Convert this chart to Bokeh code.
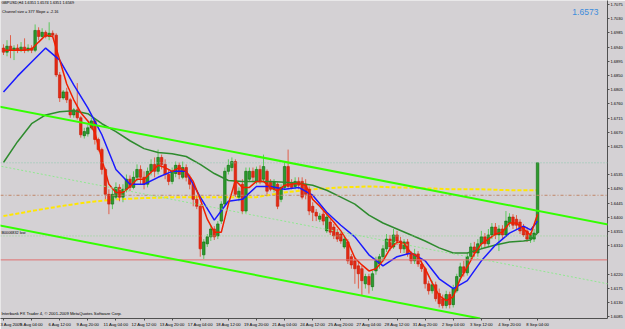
from bokeh.plotting import figure
from bokeh.models import ColumnDataSource, FixedTicker, Slope, Span, Label, PrintfTickFormatter, Range1d
from bokeh.embed import file_html
from bokeh.resources import INLINE

# ---------------- data (GBPUSD H4) ----------------
opens = [
    1.6937, 1.6924, 1.6943, 1.6930, 1.6937, 1.6930, 1.6940, 1.6930, 1.6937, 1.6930,
    1.6993, 1.6974, 1.6987, 1.6974, 1.6984, 1.6978, 1.6852, 1.6779, 1.6798, 1.6773,
    1.6725, 1.6741, 1.6716, 1.6659, 1.6665, 1.6684, 1.6706, 1.6647, 1.6615, 1.6552,
    1.6473, 1.6442, 1.6464, 1.6495, 1.6464, 1.6489, 1.6521, 1.6495, 1.6527, 1.6552,
    1.6527, 1.6505, 1.6546, 1.6568, 1.6546, 1.6590, 1.6568, 1.6536, 1.6514, 1.6539,
    1.6565, 1.6527, 1.6558, 1.6527, 1.6505, 1.6457, 1.6435, 1.6281, 1.6316, 1.6338,
    1.6363, 1.6341, 1.6388, 1.6442, 1.6546, 1.6558, 1.6577, 1.6464, 1.6505, 1.6420,
    1.6521, 1.6546, 1.6514, 1.6552, 1.6521, 1.6546, 1.6511, 1.6489, 1.6505, 1.6457,
    1.6495, 1.6561, 1.6511, 1.6498, 1.6514, 1.6514, 1.6505, 1.6489, 1.6435, 1.6416,
    1.6394, 1.6410, 1.6357, 1.6385, 1.6369, 1.6353, 1.6347, 1.6306, 1.6322, 1.6275,
    1.6262, 1.6246, 1.6237, 1.6189, 1.6212, 1.6180, 1.6230, 1.6252, 1.6275, 1.6300,
    1.6331, 1.6306, 1.6344, 1.6325, 1.6300, 1.6322, 1.6284, 1.6262, 1.6284, 1.6252,
    1.6237, 1.6189, 1.6167, 1.6186, 1.6158, 1.6142, 1.6120, 1.6155, 1.6123, 1.6167,
    1.6212, 1.6243, 1.6224, 1.6275, 1.6306, 1.6287, 1.6316, 1.6338, 1.6316, 1.6344,
    1.6369, 1.6344, 1.6363, 1.6344, 1.6382, 1.6401, 1.6394, 1.6385, 1.6369, 1.6357,
    1.6331, 1.6331, 1.6351,
]
highs = [
    1.6949, 1.6962, 1.6978, 1.6946, 1.6949, 1.6956, 1.6968, 1.6949, 1.6946, 1.7012,
    1.7003, 1.7000, 1.6993, 1.7019, 1.6993, 1.6984, 1.6861, 1.6804, 1.6811, 1.6779,
    1.6747, 1.6826, 1.6722, 1.6684, 1.6694, 1.6716, 1.6713, 1.6653, 1.6621, 1.6558,
    1.6489, 1.6489, 1.6511, 1.6505, 1.6505, 1.6536, 1.6533, 1.6546, 1.6568, 1.6565,
    1.6546, 1.6558, 1.6584, 1.6590, 1.6615, 1.6599, 1.6584, 1.6552, 1.6558, 1.6577,
    1.6574, 1.6577, 1.6568, 1.6536, 1.6511, 1.6470, 1.6442, 1.6331, 1.6347, 1.6375,
    1.6372, 1.6388, 1.6451, 1.6558, 1.6584, 1.6590, 1.6584, 1.6495, 1.6521, 1.6558,
    1.6558, 1.6558, 1.6561, 1.6565, 1.6599, 1.6552, 1.6521, 1.6521, 1.6511, 1.6505,
    1.6574, 1.6615, 1.6521, 1.6527, 1.6527, 1.6527, 1.6521, 1.6498, 1.6448, 1.6426,
    1.6413, 1.6420, 1.6410, 1.6394, 1.6379, 1.6363, 1.6357, 1.6341, 1.6331, 1.6284,
    1.6275, 1.6259, 1.6246, 1.6221, 1.6221, 1.6230, 1.6275, 1.6284, 1.6312, 1.6347,
    1.6344, 1.6363, 1.6357, 1.6338, 1.6331, 1.6331, 1.6293, 1.6300, 1.6293, 1.6268,
    1.6243, 1.6199, 1.6199, 1.6196, 1.6174, 1.6155, 1.6167, 1.6164, 1.6186, 1.6221,
    1.6256, 1.6262, 1.6287, 1.6319, 1.6322, 1.6331, 1.6357, 1.6350, 1.6363, 1.6382,
    1.6382, 1.6375, 1.6375, 1.6420, 1.6413, 1.6410, 1.6407, 1.6394, 1.6379, 1.6369,
    1.6353, 1.6363, 1.6574,
]
lows = [
    1.6915, 1.6911, 1.6905, 1.6899, 1.6921, 1.6924, 1.6921, 1.6924, 1.6921, 1.6924,
    1.6962, 1.6968, 1.6968, 1.6962, 1.6971, 1.6845, 1.6766, 1.6773, 1.6763, 1.6716,
    1.6716, 1.6710, 1.6653, 1.6650, 1.6656, 1.6678, 1.6631, 1.6609, 1.6536, 1.6457,
    1.6410, 1.6426, 1.6457, 1.6451, 1.6448, 1.6479, 1.6483, 1.6489, 1.6514, 1.6505,
    1.6489, 1.6495, 1.6533, 1.6527, 1.6536, 1.6552, 1.6521, 1.6502, 1.6505, 1.6527,
    1.6521, 1.6521, 1.6514, 1.6489, 1.6435, 1.6426, 1.6275, 1.6268, 1.6306, 1.6325,
    1.6328, 1.6331, 1.6379, 1.6435, 1.6536, 1.6546, 1.6464, 1.6451, 1.6410, 1.6413,
    1.6514, 1.6511, 1.6505, 1.6505, 1.6511, 1.6473, 1.6483, 1.6479, 1.6426, 1.6448,
    1.6489, 1.6489, 1.6489, 1.6489, 1.6489, 1.6457, 1.6457, 1.6407, 1.6388, 1.6388,
    1.6385, 1.6375, 1.6350, 1.6344, 1.6331, 1.6322, 1.6316, 1.6300, 1.6252, 1.6237,
    1.6189, 1.6174, 1.6152, 1.6174, 1.6158, 1.6167, 1.6218, 1.6237, 1.6262, 1.6290,
    1.6293, 1.6300, 1.6312, 1.6287, 1.6287, 1.6275, 1.6252, 1.6252, 1.6243, 1.6227,
    1.6174, 1.6155, 1.6158, 1.6133, 1.6114, 1.6111, 1.6111, 1.6111, 1.6114, 1.6161,
    1.6199, 1.6212, 1.6215, 1.6262, 1.6275, 1.6275, 1.6300, 1.6306, 1.6306, 1.6331,
    1.6331, 1.6293, 1.6331, 1.6338, 1.6369, 1.6363, 1.6363, 1.6347, 1.6338, 1.6322,
    1.6319, 1.6322, 1.6351,
]
closes = [
    1.6924, 1.6943, 1.6930, 1.6937, 1.6930, 1.6940, 1.6930, 1.6937, 1.6930, 1.6993,
    1.6974, 1.6987, 1.6974, 1.6984, 1.6978, 1.6852, 1.6779, 1.6798, 1.6773, 1.6725,
    1.6741, 1.6716, 1.6662, 1.6672, 1.6684, 1.6706, 1.6647, 1.6615, 1.6552, 1.6473,
    1.6442, 1.6473, 1.6495, 1.6464, 1.6489, 1.6521, 1.6495, 1.6527, 1.6552, 1.6527,
    1.6505, 1.6546, 1.6568, 1.6546, 1.6590, 1.6568, 1.6536, 1.6514, 1.6546, 1.6565,
    1.6536, 1.6558, 1.6527, 1.6505, 1.6457, 1.6435, 1.6300, 1.6322, 1.6338, 1.6363,
    1.6338, 1.6379, 1.6442, 1.6546, 1.6565, 1.6577, 1.6473, 1.6483, 1.6420, 1.6546,
    1.6546, 1.6527, 1.6552, 1.6514, 1.6561, 1.6483, 1.6489, 1.6511, 1.6435, 1.6495,
    1.6561, 1.6498, 1.6495, 1.6514, 1.6502, 1.6464, 1.6473, 1.6420, 1.6416, 1.6404,
    1.6404, 1.6388, 1.6401, 1.6353, 1.6341, 1.6331, 1.6325, 1.6331, 1.6262, 1.6249,
    1.6237, 1.6221, 1.6199, 1.6212, 1.6186, 1.6221, 1.6262, 1.6275, 1.6300, 1.6331,
    1.6306, 1.6344, 1.6325, 1.6300, 1.6322, 1.6284, 1.6262, 1.6284, 1.6252, 1.6237,
    1.6189, 1.6167, 1.6186, 1.6142, 1.6126, 1.6120, 1.6155, 1.6123, 1.6174, 1.6212,
    1.6243, 1.6224, 1.6275, 1.6306, 1.6287, 1.6316, 1.6338, 1.6316, 1.6344, 1.6369,
    1.6344, 1.6363, 1.6344, 1.6388, 1.6401, 1.6375, 1.6375, 1.6357, 1.6344, 1.6331,
    1.6344, 1.6350, 1.6573,
]

time_tick_bars = [0, 8, 16, 24, 32, 40, 48, 56, 64, 72, 80, 88, 96, 104, 112, 120, 128, 136, 144, 152]
time_labels = ["3 Aug 2009", "5 Aug 04:00", "6 Aug 12:00", "9 Aug 20:00", "11 Aug 04:00",
               "12 Aug 12:00", "13 Aug 20:00", "17 Aug 04:00", "18 Aug 12:00", "19 Aug 20:00",
               "21 Aug 04:00", "24 Aug 12:00", "25 Aug 20:00", "27 Aug 04:00", "28 Aug 12:00",
               "31 Aug 20:00", "2 Sep 04:00", "3 Sep 12:00", "4 Sep 20:00", "8 Sep 04:00"]

price_ticks = [1.6085, 1.6130, 1.6175, 1.6220, 1.6310, 1.6355, 1.6400, 1.6445,
               1.6490, 1.6535, 1.6625, 1.6670, 1.6715, 1.6760, 1.6805, 1.6850, 1.6895,
               1.6940, 1.6985, 1.7030, 1.7075]

red_ma_bars = list(range(0, 153, 2))
red_ma = [
    1.6930, 1.6930, 1.6930, 1.6930, 1.6933, 1.6956, 1.6978, 1.6974, 1.6899, 1.6823,
    1.6773, 1.6732, 1.6706, 1.6669, 1.6584, 1.6505, 1.6479, 1.6479, 1.6498, 1.6521,
    1.6521, 1.6543, 1.6565, 1.6558, 1.6546, 1.6558, 1.6546, 1.6514, 1.6457, 1.6394,
    1.6353, 1.6353, 1.6442, 1.6517, 1.6495, 1.6495, 1.6514, 1.6514, 1.6495, 1.6483,
    1.6502, 1.6505, 1.6508, 1.6502, 1.6457, 1.6435, 1.6410, 1.6385, 1.6357, 1.6322,
    1.6271, 1.6249, 1.6230, 1.6237, 1.6262, 1.6300, 1.6322, 1.6316, 1.6287, 1.6275,
    1.6237, 1.6192, 1.6152, 1.6136, 1.6148, 1.6205, 1.6243, 1.6284, 1.6316, 1.6331,
    1.6347, 1.6353, 1.6382, 1.6382, 1.6363, 1.6344, 1.6410,
]

blue_ma_bars = [0, 4, 8, 12, 16, 20, 24, 28, 32, 36, 40, 44, 48, 52, 56, 60, 64, 68, 72, 76,
                80, 84, 88, 92, 96, 100, 104, 108, 112, 116, 120, 124, 128, 132, 136, 140,
                144, 148, 150, 152]
blue_ma = [1.6798, 1.6848, 1.6893, 1.6937, 1.6899, 1.6820, 1.6747, 1.6662, 1.6552, 1.6505,
           1.6505, 1.6527, 1.6546, 1.6546, 1.6464, 1.6391, 1.6451, 1.6457, 1.6498, 1.6498,
           1.6489, 1.6495, 1.6470, 1.6416, 1.6375, 1.6338, 1.6281, 1.6246, 1.6275, 1.6287,
           1.6262, 1.6205, 1.6174, 1.6199, 1.6262, 1.6312, 1.6350, 1.6372, 1.6360, 1.6388]

green_ma_bars = blue_ma_bars
green_ma = [1.6574, 1.6640, 1.6697, 1.6725, 1.6735, 1.6738, 1.6729, 1.6697, 1.6672, 1.6643,
            1.6618, 1.6606, 1.6602, 1.6593, 1.6568, 1.6539, 1.6517, 1.6514, 1.6514, 1.6514,
            1.6511, 1.6508, 1.6502, 1.6486, 1.6464, 1.6442, 1.6407, 1.6382, 1.6363, 1.6344,
            1.6325, 1.6303, 1.6287, 1.6287, 1.6300, 1.6312, 1.6322, 1.6325, 1.6328, 1.6350]

yellow_ma_bars = list(range(0, 153, 8))
yellow_ma = [1.6404, 1.6420, 1.6435, 1.6448, 1.6457, 1.6461, 1.6464, 1.6464, 1.6464, 1.6464,
             1.6479, 1.6489, 1.6495, 1.6498, 1.6495, 1.6492, 1.6489, 1.6489, 1.6486, 1.6486]

channel_top_bar0 = 1.6749   # upper channel line at first bar
channel_slope = -0.000216   # "Slope = -2.16" points per bar
channel_size = 0.0377       # "Channel size = 377"

bid_price = 1.6573
pivot_level = 1.6470
low_level = 1.6341
red_level = 1.6265

# ---------------- styling ----------------
BG = "#D4D1D4"
FONT = "Liberation Sans"

p = figure(width=625, height=329, x_range=Range1d(-0.85, 171.9), y_range=Range1d(1.6079, 1.7088),
           y_axis_location="right", output_backend="svg", toolbar_location=None,
           min_border_left=0, min_border_top=0, min_border_right=17, min_border_bottom=9,
           background_fill_color=BG, border_fill_color=BG, outline_line_color=None)
p.xgrid.visible = False
p.ygrid.visible = False

p.xaxis.ticker = FixedTicker(ticks=time_tick_bars)
p.xaxis.major_label_overrides = {b: t for b, t in zip(time_tick_bars, time_labels)}
p.xaxis.major_label_text_align = "left"
p.xaxis.major_label_text_font = FONT
p.xaxis.major_label_text_font_size = "4.2px"
p.xaxis.major_label_text_color = "#000000"
p.xaxis.major_label_standoff = 1
p.xaxis.major_tick_in = 0
p.xaxis.major_tick_out = 2
p.xaxis.minor_tick_line_color = None
p.xaxis.axis_line_color = "#505050"
p.xaxis.major_tick_line_color = "#505050"

p.yaxis.ticker = FixedTicker(ticks=price_ticks)
p.yaxis.formatter = PrintfTickFormatter(format="%.4f")
p.yaxis.major_label_text_font = FONT
p.yaxis.major_label_text_font_size = "4px"
p.yaxis.major_label_text_color = "#000000"
p.yaxis.major_label_standoff = 1
p.yaxis.major_tick_in = 0
p.yaxis.major_tick_out = 2
p.yaxis.minor_tick_line_color = None
p.yaxis.axis_line_color = "#505050"
p.yaxis.major_tick_line_color = "#505050"

# horizontal levels
p.add_layout(Span(location=red_level, dimension="width", line_color="#E07070", line_width=1))
p.add_layout(Span(location=low_level, dimension="width", line_color="#8ED88E", line_width=1, line_dash="1 2"))
p.add_layout(Span(location=pivot_level, dimension="width", line_color="#C0886A", line_width=1, line_dash="3 2 1 2"))
p.add_layout(Span(location=bid_price, dimension="width", line_color="#8CC8B0", line_width=1, line_dash="1 2"))

# regression channel
p.add_layout(Slope(gradient=channel_slope, y_intercept=channel_top_bar0, line_color="#33FF00", line_width=2))
p.add_layout(Slope(gradient=channel_slope, y_intercept=channel_top_bar0 - channel_size / 2,
                   line_color="#90E890", line_width=1, line_dash="2 2"))
p.add_layout(Slope(gradient=channel_slope, y_intercept=channel_top_bar0 - channel_size, line_color="#33FF00", line_width=2))

# long MA (yellow)
p.line(yellow_ma_bars, yellow_ma, line_color="#FFE600", line_width=2, line_dash="4 2")

# candles
bars = list(range(len(closes)))
up = [k for k in bars if closes[k] >= opens[k]]
dn = [k for k in bars if closes[k] < opens[k]]

def src(idx):
    return ColumnDataSource(dict(
        x=idx, h=[highs[k] for k in idx], l=[lows[k] for k in idx],
        top=[max(opens[k], closes[k]) for k in idx], bot=[min(opens[k], closes[k]) for k in idx]))

su, sd = src(up), src(dn)
p.segment(x0="x", y0="h", x1="x", y1="l", source=su, line_color="#5DC85D", line_width=1)
p.segment(x0="x", y0="h", x1="x", y1="l", source=sd, line_color="#E0604A", line_width=1)
p.vbar(x="x", width=0.72, top="top", bottom="bot", source=su, fill_color="#2E9A2E", line_color="#0B6B0B", line_width=0.6)
p.vbar(x="x", width=0.72, top="top", bottom="bot", source=sd, fill_color="#E42A14", line_color="#C81E0A", line_width=0.6)

# moving averages
p.line(green_ma_bars, green_ma, line_color="#2E8B2E", line_width=1.5)
p.line(blue_ma_bars, blue_ma, line_color="#1A1AFF", line_width=1.5)
p.line(red_ma_bars, red_ma, line_color="#F02000", line_width=1.5)

# texts
def lab(x, y, text, size, color="#000000", **kw):
    p.add_layout(Label(x=x, y=y, text=text, text_font=FONT, text_font_size=size, text_color=color, **kw))

lab(-0.6, 1.7087, "GBPUSD,H4  1.6351 1.6574 1.6351 1.6569", "3.8px", text_baseline="top")
lab(-0.4, 1.7058, "Channel size = 377  Slope = -2.16", "3.8px", text_baseline="top")
lab(161.9, 1.7053, "1.6573", "8.5px", color="#3C8CDC", text_baseline="middle")
lab(-0.6, low_level + 0.0003, "B0006832 low", "3.8px", text_baseline="bottom")
lab(-0.6, 1.6096, "Interbank FX Trader 4, \u00a9 2001-2009 MetaQuotes Software Corp.", "4.2px", text_baseline="middle")
lab(172.3, bid_price, "1.6573", "4px", color="#FFFFFF", text_baseline="middle",
    background_fill_color="#000000", padding=1)
lab(172.3, red_level, "1.6265", "4px", color="#FFFFFF", text_baseline="middle",
    background_fill_color="#E03020", padding=1)

open("out.html", "w").write(file_html(p, INLINE))
